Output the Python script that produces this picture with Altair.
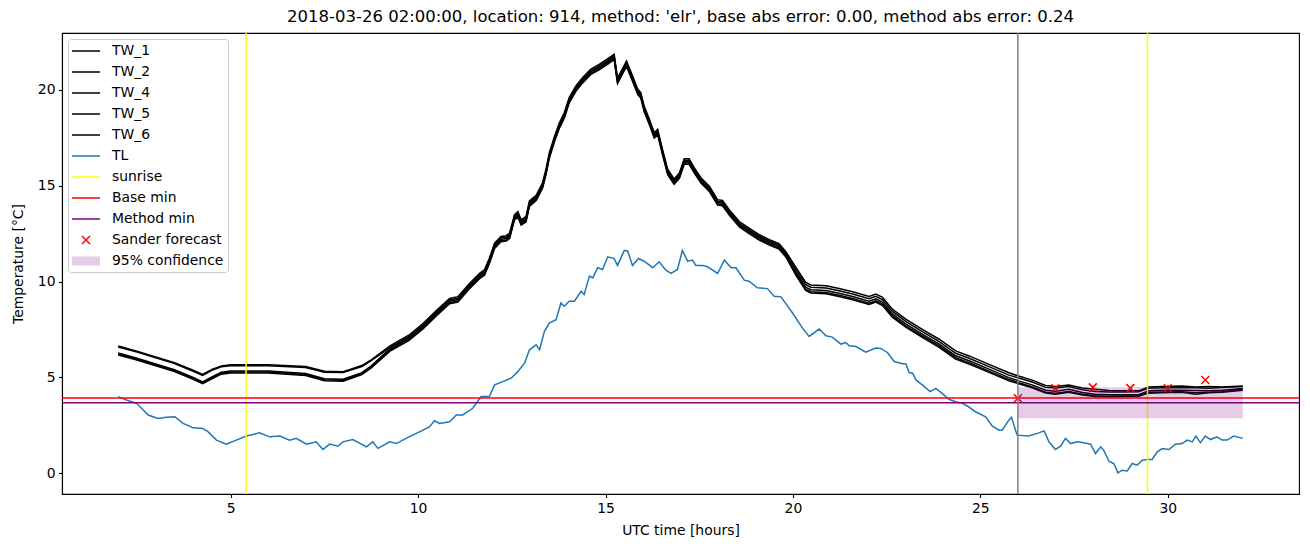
import altair as alt
import pandas as pd

# ---------------- data ----------------
TW_HOURS = [2.0, 2.5, 3.0, 3.5, 4.0, 4.25, 4.5, 4.75, 5.0, 6.0, 7.0, 7.5, 8.0, 8.5, 8.75,
            9.25, 9.75, 10.13, 10.5, 10.84, 11.06, 11.37, 11.64, 11.77, 11.9, 12.04, 12.21, 12.35, 12.44,
            12.57, 12.66, 12.75, 12.88, 12.97, 13.15, 13.32, 13.41, 13.5, 13.64, 13.77, 13.9, 14.03, 14.21,
            14.39, 14.61, 14.83, 15.06, 15.23, 15.32, 15.46, 15.56, 15.72, 15.86, 15.94, 16.03, 16.17, 16.3,
            16.39, 16.52, 16.66, 16.83, 16.97, 17.1, 17.23, 17.37, 17.55, 17.77, 17.99, 18.12, 18.3, 18.57,
            18.83, 19.1, 19.37, 19.63, 19.81,
            20.08, 20.34, 20.48, 20.88, 21.23, 21.59, 22.03, 22.21, 22.39, 22.65, 23.01, 23.45, 23.9, 24.34,
            24.7, 25.23, 25.76,
            26.02, 26.38, 26.74, 27.0, 27.36, 27.72, 28.07, 28.43, 28.78, 29.22, 29.49, 29.85, 30.38, 30.74,
            31.09, 31.45, 32.0]

TW_1 = [6.64, 6.37, 6.07, 5.77, 5.37, 5.15, 5.42, 5.60, 5.66, 5.66, 5.57, 5.32, 5.30, 5.62, 5.92,
        6.65, 7.20, 7.81, 8.51, 9.12, 9.21, 9.90, 10.43, 10.61, 11.21, 12.00, 12.35, 12.39, 12.52,
        13.48, 13.65, 13.22, 13.40, 14.20, 14.50, 15.15, 15.84, 16.71, 17.58, 18.28, 18.80, 19.59, 20.20,
        20.64, 21.08, 21.32, 21.62, 21.85, 20.60, 21.13, 21.50, 20.73, 20.03, 19.85, 19.15, 18.46, 17.76,
        17.94, 16.89, 15.84, 15.35, 15.66, 16.40, 16.40, 15.93, 15.40, 14.97, 14.27, 14.23, 13.75, 13.13,
        12.78, 12.44, 12.18, 11.97, 11.56,
        10.74, 9.95, 9.82, 9.78, 9.64, 9.47, 9.22, 9.35, 9.17, 8.56, 8.04, 7.51, 6.99, 6.38,
        6.12, 5.68, 5.24,
        5.07, 4.86, 4.58, 4.52, 4.60, 4.45, 4.38, 4.32, 4.30, 4.30, 4.50, 4.52, 4.55, 4.50,
        4.52, 4.50, 4.55]

TW_2 = [6.59, 6.32, 6.02, 5.72, 5.32, 5.10, 5.37, 5.55, 5.61, 5.61, 5.52, 5.27, 5.25, 5.57, 5.87,
        6.57, 7.12, 7.73, 8.43, 9.04, 9.13, 9.82, 10.35, 10.53, 11.13, 11.92, 12.27, 12.31, 12.44,
        13.40, 13.57, 13.14, 13.32, 14.12, 14.42, 15.07, 15.76, 16.63, 17.50, 18.20, 18.72, 19.51, 20.12,
        20.56, 21.00, 21.24, 21.54, 21.77, 20.52, 21.05, 21.42, 20.65, 19.95, 19.77, 19.07, 18.38, 17.68,
        17.86, 16.81, 15.76, 15.27, 15.58, 16.32, 16.32, 15.85, 15.32, 14.89, 14.19, 14.15, 13.67, 13.05,
        12.70, 12.36, 12.10, 11.89, 11.48,
        10.62, 9.83, 9.70, 9.66, 9.52, 9.35, 9.10, 9.23, 9.05, 8.44, 7.92, 7.39, 6.87, 6.26,
        6.00, 5.56, 5.12,
        4.97, 4.76, 4.48, 4.45, 4.52, 4.36, 4.27, 4.24, 4.24, 4.25, 4.44, 4.46, 4.47, 4.46,
        4.44, 4.47, 4.52]

TW_4 = [6.27, 6.00, 5.70, 5.40, 5.00, 4.77, 5.03, 5.27, 5.33, 5.33, 5.20, 4.93, 4.90, 5.25, 5.60,
        6.50, 7.05, 7.66, 8.36, 8.97, 9.06, 9.75, 10.28, 10.46, 11.06, 11.85, 12.20, 12.24, 12.37,
        13.33, 13.50, 13.07, 13.25, 14.05, 14.35, 15.00, 15.69, 16.56, 17.43, 18.13, 18.65, 19.44, 20.05,
        20.49, 20.93, 21.17, 21.47, 21.70, 20.45, 20.98, 21.35, 20.58, 19.88, 19.70, 19.00, 18.31, 17.61,
        17.79, 16.74, 15.69, 15.20, 15.51, 16.25, 16.25, 15.78, 15.25, 14.82, 14.12, 14.08, 13.60, 12.98,
        12.63, 12.29, 12.03, 11.82, 11.41,
        10.49, 9.70, 9.57, 9.53, 9.39, 9.22, 8.97, 9.10, 8.92, 8.31, 7.79, 7.26, 6.74, 6.13,
        5.87, 5.43, 4.99,
        4.82, 4.61, 4.33, 4.28, 4.38, 4.21, 4.12, 4.09, 4.10, 4.10, 4.30, 4.33, 4.33, 4.32,
        4.30, 4.33, 4.42]

TW_5 = [6.22, 5.95, 5.65, 5.35, 4.95, 4.72, 4.98, 5.22, 5.28, 5.28, 5.15, 4.88, 4.85, 5.20, 5.55,
        6.43, 6.98, 7.59, 8.29, 8.90, 8.99, 9.68, 10.21, 10.39, 10.99, 11.78, 12.13, 12.17, 12.30,
        13.26, 13.43, 13.00, 13.18, 13.98, 14.28, 14.93, 15.62, 16.49, 17.36, 18.06, 18.58, 19.37, 19.98,
        20.42, 20.86, 21.10, 21.40, 21.63, 20.38, 20.91, 21.28, 20.51, 19.81, 19.63, 18.93, 18.24, 17.54,
        17.72, 16.67, 15.62, 15.13, 15.44, 16.18, 16.18, 15.71, 15.18, 14.75, 14.05, 14.01, 13.53, 12.91,
        12.56, 12.22, 11.96, 11.75, 11.34,
        10.39, 9.60, 9.47, 9.43, 9.29, 9.12, 8.87, 9.00, 8.82, 8.21, 7.69, 7.16, 6.64, 6.03,
        5.77, 5.33, 4.89,
        4.72, 4.51, 4.23, 4.18, 4.27, 4.12, 4.04, 4.02, 4.03, 4.04, 4.22, 4.24, 4.25, 4.20,
        4.22, 4.25, 4.38]

TW_6 = [6.17, 5.90, 5.60, 5.30, 4.90, 4.67, 4.93, 5.17, 5.23, 5.23, 5.10, 4.83, 4.80, 5.15, 5.50,
        6.37, 6.92, 7.53, 8.23, 8.84, 8.93, 9.62, 10.15, 10.33, 10.93, 11.72, 12.07, 12.11, 12.24,
        13.20, 13.37, 12.94, 13.12, 13.92, 14.22, 14.87, 15.56, 16.43, 17.30, 18.00, 18.52, 19.31, 19.92,
        20.36, 20.80, 21.04, 21.34, 21.57, 20.32, 20.85, 21.22, 20.45, 19.75, 19.57, 18.87, 18.18, 17.48,
        17.66, 16.61, 15.56, 15.07, 15.38, 16.12, 16.12, 15.65, 15.12, 14.69, 13.99, 13.95, 13.47, 12.85,
        12.50, 12.16, 11.90, 11.69, 11.28,
        10.32, 9.53, 9.40, 9.36, 9.22, 9.05, 8.80, 8.93, 8.75, 8.14, 7.62, 7.09, 6.57, 5.96,
        5.70, 5.26, 4.82,
        4.67, 4.46, 4.18, 4.12, 4.22, 4.08, 4.00, 3.99, 4.00, 4.02, 4.18, 4.20, 4.22, 4.12,
        4.20, 4.22, 4.33]

TL_HOURS = [2.0, 2.22, 2.49, 2.8, 3.06, 3.29, 3.51, 3.73, 4.0, 4.26,
            4.4, 4.62, 4.88, 5.15, 5.42, 5.77, 6.04, 6.31, 6.57, 6.75,
            7.02, 7.28, 7.46, 7.64, 7.86, 7.99, 8.26, 8.62, 8.79, 8.93,
            9.24, 9.42, 9.68, 9.95, 10.13, 10.3, 10.44, 10.57, 10.84, 11.02,
            11.19, 11.46, 11.68, 11.9, 12.04, 12.26, 12.48, 12.66, 12.84, 12.97,
            13.15, 13.24, 13.37, 13.5, 13.68, 13.81, 13.9, 14.03, 14.17, 14.35,
            14.43, 14.57, 14.66, 14.79, 14.92, 15.06, 15.23, 15.32, 15.5, 15.59,
            15.72, 15.88, 16.03, 16.26, 16.43, 16.61, 16.75, 16.92, 17.05, 17.19,
            17.32, 17.41, 17.59, 17.72, 17.99, 18.17, 18.35, 18.48, 18.7, 18.83,
            19.05, 19.32, 19.5, 19.68, 19.99, 20.25, 20.43, 20.7, 20.88, 21.05,
            21.28, 21.41, 21.5, 21.68, 21.94, 22.21, 22.34, 22.52, 22.7, 22.92,
            23.01, 23.1, 23.19, 23.28, 23.45, 23.66, 23.81, 23.98, 24.16, 24.34,
            24.52, 24.65, 24.87, 25.14, 25.32, 25.5, 25.58, 25.76, 25.83, 25.98,
            26.29, 26.52, 26.7, 26.83, 27.0, 27.14, 27.27, 27.41, 27.58, 27.76,
            27.94, 28.07, 28.21, 28.29, 28.43, 28.56, 28.67, 28.78, 28.92, 29.05,
            29.18, 29.32, 29.45, 29.58, 29.72, 29.85, 30.03, 30.2, 30.38, 30.52,
            30.65, 30.75, 30.87, 31.0, 31.14, 31.31, 31.45, 31.58, 31.76, 32.0]

TL_VALUES = [4.0, 3.82, 3.65, 3.04, 2.86, 2.92, 2.95, 2.6, 2.37, 2.34,
             2.16, 1.73, 1.52, 1.73, 1.94, 2.11, 1.9, 1.94, 1.73, 1.82,
             1.52, 1.64, 1.24, 1.52, 1.41, 1.64, 1.76, 1.38, 1.64, 1.3,
             1.64, 1.55, 1.82, 2.08, 2.25, 2.42, 2.74, 2.6, 2.69, 3.04,
             3.04, 3.39, 4.0, 4.0, 4.61, 4.78, 4.96, 5.3, 5.74, 6.44,
             6.7, 6.44, 7.4, 7.83, 8.01, 8.88, 8.71, 8.97, 8.97, 9.49,
             9.32, 10.28, 10.19, 10.72, 10.63, 11.29, 11.2, 10.84, 11.62, 11.59,
             10.84, 11.2, 11.06, 10.72, 11.03, 10.59, 10.42, 10.63, 11.62, 11.06,
             11.12, 10.84, 10.84, 10.77, 10.42, 11.12, 10.72, 10.72, 10.07, 10.02,
             9.67, 9.63, 9.23, 9.2, 8.36, 7.58, 7.14, 7.52, 7.17, 7.1,
             6.74, 6.82, 6.65, 6.61, 6.32, 6.53, 6.51, 6.3, 5.83, 5.71,
             5.71, 5.25, 5.22, 4.87, 4.61, 4.26, 4.43, 4.17, 3.86, 3.73,
             3.65, 3.51, 3.21, 2.95, 2.46, 2.25, 2.25, 2.77, 2.92, 1.99,
             1.94, 2.08, 2.21, 1.64, 1.24, 1.41, 1.82, 1.55, 1.64, 1.59,
             1.52, 1.03, 1.38, 1.2, 0.63, 0.51, 0.02, 0.16, 0.12, 0.51,
             0.42, 0.68, 0.72, 0.72, 1.12, 1.29, 1.24, 1.52, 1.55, 1.73,
             1.64, 1.94, 1.59, 1.94, 1.76, 1.9, 1.73, 1.73, 1.94, 1.82]

SUNRISE_HOURS = [5.41, 29.46]
FORECAST_TIME = [26.0]
BASE_MIN = [3.92]
METHOD_MIN = [3.68]
SANDER_HOURS = [26, 27, 28, 29, 30, 31]
SANDER_VALUES = [3.91, 4.43, 4.48, 4.44, 4.43, 4.86]
CONF_HOURS = [26.0, 32.0]
CONF_LOW = [2.87, 2.87]
CONF_HIGH = [4.49, 4.49]

TITLE = "2018-03-26 02:00:00, location: 914, method: 'elr', base abs error: 0.00, method abs error: 0.24"
X_TICKS = [5, 10, 15, 20, 25, 30]
Y_TICKS = [0, 5, 10, 15, 20]

LEGEND_NAMES = ["TW_1", "TW_2", "TW_4", "TW_5", "TW_6", "TL", "sunrise", "Base min",
                "Method min", "Sander forecast", "95% confidence"]

# ---------------- styles ----------------
FONT = "DejaVu Sans"
TL_COLOR = "#1f77b4"
LEGEND_COLORS = ["black", "black", "black", "black", "black", TL_COLOR, "yellow", "red",
                 "purple", "red", "#e6cce6"]
# legend symbol paths (unit = 7 px at symbolSize 196)
LINE_PATH = "M-2,0H2"
CROSS_PATH = "M-0.57,-0.57L0.57,0.57M-0.57,0.57L0.57,-0.57"
RECT_PATH = ("M-2,-0.536H2M-2,-0.321H2M-2,-0.107H2"
             "M-2,0.107H2M-2,0.321H2M-2,0.536H2")
LEGEND_SHAPES = [LINE_PATH] * 9 + [CROSS_PATH, RECT_PATH]

tw_series = {"TW_1": TW_1, "TW_2": TW_2, "TW_4": TW_4, "TW_5": TW_5, "TW_6": TW_6}
for k, v in tw_series.items():
    assert len(v) == len(TW_HOURS), k
assert len(TL_HOURS) == len(TL_VALUES)

tw_df = pd.DataFrame([
    {"series": name, "h": h, "T": t}
    for name, vals in tw_series.items()
    for h, t in zip(TW_HOURS, vals)
])
tl_df = pd.DataFrame({"h": TL_HOURS, "T": TL_VALUES})
sun_df = pd.DataFrame({"h": SUNRISE_HOURS})
now_df = pd.DataFrame({"h": FORECAST_TIME})
base_df = pd.DataFrame({"T": BASE_MIN})
meth_df = pd.DataFrame({"T": METHOD_MIN})
sander_df = pd.DataFrame({"h": SANDER_HOURS, "T": SANDER_VALUES})
conf_df = pd.DataFrame({"h": CONF_HOURS, "lo": CONF_LOW, "hi": CONF_HIGH})
legend_df = pd.DataFrame({"series": LEGEND_NAMES, "h": [None] * len(LEGEND_NAMES),
                          "T": [None] * len(LEGEND_NAMES)})

XS = alt.Scale(domain=[0.5, 33.5], nice=False, zero=False)
YS = alt.Scale(domain=[-1.08, 22.96], nice=False, zero=False)
XAX = alt.Axis(values=X_TICKS, title="UTC time [hours]", grid=False, format="d", titlePadding=9)
YAX = alt.Axis(values=Y_TICKS, title="Temperature [°C]", grid=False, format="d", titlePadding=12)


def X(field="h"):
    return alt.X(f"{field}:Q", scale=XS, axis=XAX)


def Y(field="T"):
    return alt.Y(f"{field}:Q", scale=YS, axis=YAX)


tw_layer = alt.Chart(tw_df).mark_line(color="black", strokeWidth=1.5).encode(
    x=X(), y=Y(), detail="series:N")
tl_layer = alt.Chart(tl_df).mark_line(color=TL_COLOR, strokeWidth=1.5).encode(x=X(), y=Y())
sun_layer = alt.Chart(sun_df).mark_rule(color="yellow", strokeWidth=1.5).encode(x=X())
base_layer = alt.Chart(base_df).mark_rule(color="red", strokeWidth=1.5).encode(y=Y())
meth_layer = alt.Chart(meth_df).mark_rule(color="purple", strokeWidth=1.5).encode(y=Y())
sander_layer = alt.Chart(sander_df).mark_point(
    shape="M-1,-1L1,1M-1,1L1,-1", filled=False, color="red", size=64, strokeWidth=1.5, opacity=1
).encode(x=X(), y=Y())
conf_layer = alt.Chart(conf_df).mark_area(color="purple", opacity=0.2).encode(
    x=X(), y=Y("lo"), y2=alt.Y2("hi:Q"))
now_layer = alt.Chart(now_df).mark_rule(color="gray", strokeWidth=1.5).encode(x=X())

LEG = alt.Legend(title=None, orient="none", legendX=6, legendY=6, direction="vertical",
                 fillColor="rgba(255,255,255,0.8)", strokeColor="#cccccc", cornerRadius=3,
                 padding=4, labelFont=FONT, labelFontSize=13.9, labelColor="black",
                 symbolSize=196, symbolStrokeWidth=1.5, rowPadding=6, labelOffset=18,
                 symbolOffset=6, symbolLimit=20)
legend_layer = alt.Chart(legend_df).mark_point(filled=False, opacity=1, strokeWidth=1.5).encode(
    x=X(), y=Y(),
    color=alt.Color("series:N", scale=alt.Scale(domain=LEGEND_NAMES, range=LEGEND_COLORS), legend=LEG),
    shape=alt.Shape("series:N", scale=alt.Scale(domain=LEGEND_NAMES, range=LEGEND_SHAPES), legend=LEG),
)

chart = alt.layer(
    tw_layer, tl_layer, sun_layer, base_layer, meth_layer, sander_layer, conf_layer, now_layer,
    legend_layer
).properties(
    width=1237, height=461,
    title=alt.TitleParams(TITLE, font=FONT, fontSize=16.5, fontWeight="normal", color="black",
                          anchor="middle", offset=7),
    padding={"left": 62, "top": 33, "right": 11, "bottom": 53},
    autosize=alt.AutoSizeParams(type="none"),
    background="white",
).configure_view(
    stroke="black", strokeWidth=1.1
).configure_axis(
    domainColor="black", domainWidth=1.1, tickColor="black", tickWidth=1.1, tickSize=3.5,
    labelFont=FONT, labelFontSize=13.9, labelColor="black", labelPadding=3.5,
    titleFont=FONT, titleFontSize=13.9, titleFontWeight="normal", titleColor="black",
)

chart.save("out.html", embed_options={"renderer": "svg", "actions": False})
